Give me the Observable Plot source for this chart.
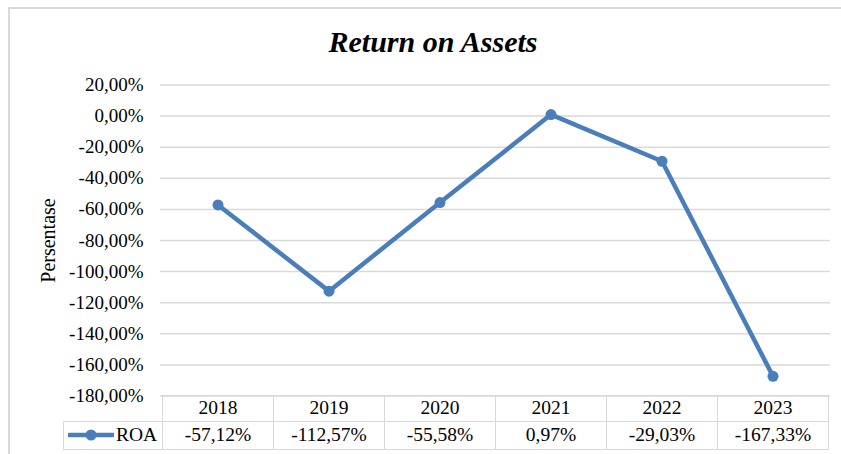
<!DOCTYPE html>
<html>
<head>
<meta charset="utf-8">
<script src="https://cdn.jsdelivr.net/npm/d3@7"></script>
<script src="https://cdn.jsdelivr.net/npm/@observablehq/plot@0.6"></script>
<style>
  html, body { margin: 0; padding: 0; background: #fff; }
  #wrap { position: relative; width: 841px; height: 454px; overflow: hidden; font-family: "Liberation Serif", "Times New Roman", serif; }
  #frame { position: absolute; left: 8px; top: 7px; width: 900px; height: 500px; border-top: 2px solid #d9d9d9; border-left: 2px solid #d9d9d9; }
  #title { position: absolute; top: 24px; left: 433px; transform: translateX(-50%); font-size: 30px; line-height: 36px; font-weight: bold; font-style: italic; white-space: nowrap; color: #000; }
  #chart { position: absolute; left: 0; top: 0; }
  #tbl { position: absolute; border-collapse: collapse; table-layout: fixed; font-size: 19.5px; font-weight: normal; color: #000; }
  #tbl td { border: 1.5px solid #d9d9d9; padding: 0; text-align: center; white-space: nowrap; overflow: hidden; }
  #tbl td.blank { border-top: none; border-left: none; }
</style>
</head>
<body>
<div id="wrap">
  <div id="frame"></div>
  <div id="chart"></div>
  <div id="title">Return on Assets</div>
</div>
<script>
const years = ["2018", "2019", "2020", "2021", "2022", "2023"];
const roa = [-57.12, -112.57, -55.58, 0.97, -29.03, -167.33];
const yTicks = [20, 0, -20, -40, -60, -80, -100, -120, -140, -160, -180];
const seriesName = "ROA";
const yTitle = "Persentase";
const lineColor = "#4a7ebb";

const fmt = v => v.toFixed(2).replace(".", ",") + "%";
const data = years.map((y, i) => ({year: y, value: roa[i]}));

const chart = Plot.plot({
  width: 841,
  height: 454,
  marginLeft: 160,
  marginRight: 11,
  marginTop: 84.5,
  marginBottom: 58.5,
  style: {fontFamily: "'Liberation Serif', 'Times New Roman', serif", fontSize: "19px", color: "#000", background: "transparent", overflow: "visible"},
  x: {type: "band", domain: years, padding: 0, axis: null},
  y: {domain: [-180, 20], axis: null},
  marks: [
    Plot.ruleY(yTicks, {stroke: "#d9d9d9", strokeWidth: 1.5}),
    Plot.axisY({ticks: yTicks, tickFormat: fmt, tickSize: 0, tickPadding: 17, fontSize: 19, label: null}),
    Plot.text([yTitle], {frameAnchor: "left", textAnchor: "middle", rotate: -90, dx: -112, fontSize: 20}),
    Plot.line(data, {x: "year", y: "value", stroke: lineColor, strokeWidth: 4.5}),
    Plot.dot(data, {x: "year", y: "value", r: 5.5, fill: lineColor, stroke: "none"})
  ]
});
document.getElementById("chart").appendChild(chart);

// Data table below, aligned to the x band scale
const xs = chart.scale("x");
const ys = chart.scale("y");
const bw = xs.bandwidth;
const x0 = xs.apply(years[0]);
const legendW = 99;
const tbl = document.createElement("table");
tbl.id = "tbl";
tbl.style.left = (x0 - legendW) + "px";
tbl.style.top = (ys.apply(-180) - 1) + "px";
tbl.style.width = (legendW + bw * years.length) + "px";
const cg = document.createElement("colgroup");
const c0 = document.createElement("col"); c0.style.width = legendW + "px"; cg.appendChild(c0);
years.forEach(() => { const c = document.createElement("col"); c.style.width = bw + "px"; cg.appendChild(c); });
tbl.appendChild(cg);

const r1 = document.createElement("tr");
r1.style.height = "26px";
const blank = document.createElement("td"); blank.className = "blank"; r1.appendChild(blank);
years.forEach(y => { const td = document.createElement("td"); td.textContent = y; r1.appendChild(td); });
tbl.appendChild(r1);

const r2 = document.createElement("tr");
r2.style.height = "28px";
const lg = document.createElement("td");
lg.style.textAlign = "left";
lg.innerHTML = `<span style="display:inline-flex;align-items:center;gap:2px;padding-left:4px"><svg width="46" height="12"><line x1="1" y1="6" x2="45" y2="6" stroke="${lineColor}" stroke-width="4.5" stroke-linecap="round"/><circle cx="23" cy="6" r="5.5" fill="${lineColor}"/></svg><span>${seriesName}</span></span>`;
r2.appendChild(lg);
roa.forEach(v => { const td = document.createElement("td"); td.textContent = fmt(v); r2.appendChild(td); });
tbl.appendChild(r2);

document.getElementById("wrap").appendChild(tbl);
</script>
</body>
</html>
